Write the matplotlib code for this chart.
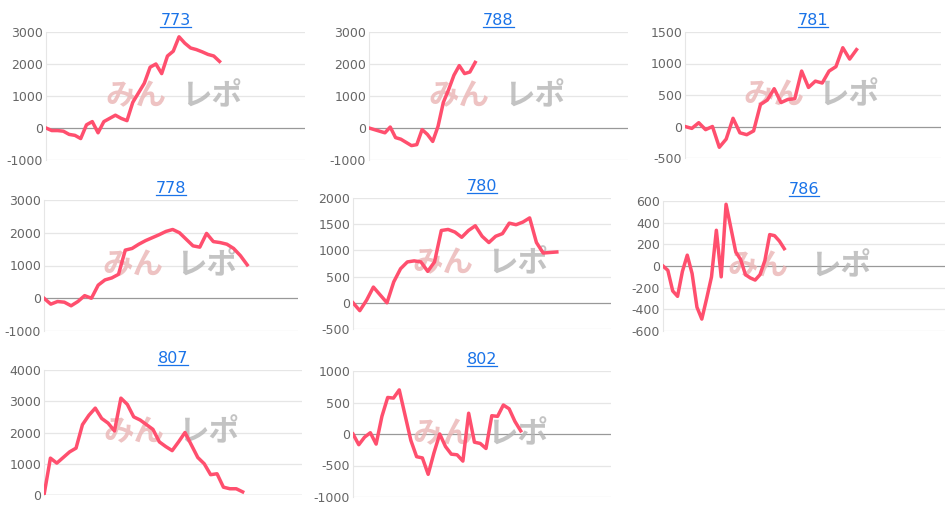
import matplotlib
matplotlib.use("Agg")
import matplotlib.pyplot as plt

titles = ["773", "788", "781", "778", "780", "786", "807", "802"]
s773 = [0,-80,-80,-100,-200,-230,-330,100,200,-150,200,300,400,300,230,800,1100,1400,1900,2000,1700,2250,2400,2850,2650,2500,2450,2380,2300,2250,2080]
s788 = [0,-50,-100,-150,30,-300,-350,-450,-550,-520,-50,-200,-420,50,800,1200,1650,1950,1700,1750,2050]
s781 = [0,-30,60,-50,0,-330,-200,130,-100,-130,-70,350,420,600,380,430,440,880,620,720,690,880,950,1250,1070,1220]
s778 = [0,-180,-100,-120,-230,-100,80,0,400,560,620,730,1470,1520,1650,1760,1850,1940,2040,2100,2000,1800,1600,1560,1980,1730,1700,1650,1520,1300,1020]
s780 = [0,-150,50,300,150,0,400,650,780,800,780,600,780,1380,1400,1350,1250,1380,1470,1270,1150,1270,1320,1520,1490,1540,1620,1150,950,960,970]
s786 = [0,-40,-230,-280,-50,100,-70,-380,-490,-300,-100,330,-100,570,350,130,60,-80,-110,-130,-80,50,290,280,230,160]
s807 = [0,1180,1020,1200,1380,1500,2250,2550,2780,2450,2300,2050,3100,2900,2500,2400,2250,2100,1700,1550,1420,1700,2000,1600,1200,1000,650,680,250,200,200,100]
s802 = [0,-170,-50,20,-160,280,580,570,700,300,-100,-360,-380,-640,-300,0,-200,-320,-330,-430,330,-130,-150,-230,290,280,460,400,200,50]
series = [s773, s788, s781, s778, s780, s786, s807, s802]
end_frac = [0.67, 0.41, 0.67, 0.80, 0.79, 0.43, 0.77, 0.65]
yticks = [
    [-1000, 0, 1000, 2000, 3000],
    [-1000, 0, 1000, 2000, 3000],
    [-500, 0, 500, 1000, 1500],
    [-1000, 0, 1000, 2000, 3000],
    [-500, 0, 500, 1000, 1500, 2000],
    [-600, -400, -200, 0, 200, 400, 600],
    [0, 1000, 2000, 3000, 4000],
    [-1000, -500, 0, 500, 1000],
]
boxes = [
    (46, 305, 32, 160), (369, 628, 32, 160), (685, 941, 32, 158),
    (44, 298, 200, 331), (353, 611, 198, 329), (663, 945, 201, 331),
    (44, 302, 370, 495), (353, 611, 371, 497),
]
W, H = 950, 508
fig = plt.figure(figsize=(W/100, H/100), dpi=100)
for i in range(8):
    x0, x1, yt, yb = boxes[i]
    ax = fig.add_axes([x0/W, 1-yb/H, (x1-x0)/W, (yb-yt)/H])
    s = series[i]
    n = len(s)
    ax.set_xlim(0, (n-1)/end_frac[i])
    t = yticks[i]
    ax.set_ylim(t[0], t[-1])
    ax.set_yticks(t)
    ax.set_yticklabels([str(v) for v in t], color="#666666", fontsize=9)
    ax.set_xticks([])
    for v in t:
        ax.axhline(v, color="#999999" if v == 0 else "#e6e6e6", lw=0.9, zorder=0)
    for sp in ["top", "right", "bottom"]:
        ax.spines[sp].set_visible(False)
    ax.spines["left"].set_color("#e6e6e6")
    ax.tick_params(axis="y", length=0, pad=2)
    ax.text(0.23, 0.5, "みん", transform=ax.transAxes, color="#eab4b4", alpha=0.8,
            fontsize=22, fontweight="bold", style="italic", family=["Noto Sans CJK JP"], va="center", zorder=1)
    ax.text(0.52, 0.5, "レポ", transform=ax.transAxes, color="#b5b5b5", alpha=0.8,
            fontsize=22, fontweight="bold", style="italic", family=["Noto Sans CJK JP"], va="center", zorder=1)
    ax.plot(range(n), s, color="#ff4f6e", lw=2.5, zorder=3)
    ax.set_title(titles[i], color="#1a73e8", fontsize=11.5, pad=5)
fig.canvas.draw()
for a in fig.axes:
    bb = a.title.get_window_extent()
    fig.add_artist(plt.Line2D([bb.x0/W, bb.x1/W], [(bb.y0+1)/H, (bb.y0+1)/H], color="#1a73e8", lw=0.9))
fig.savefig("out.png", dpi=100)
